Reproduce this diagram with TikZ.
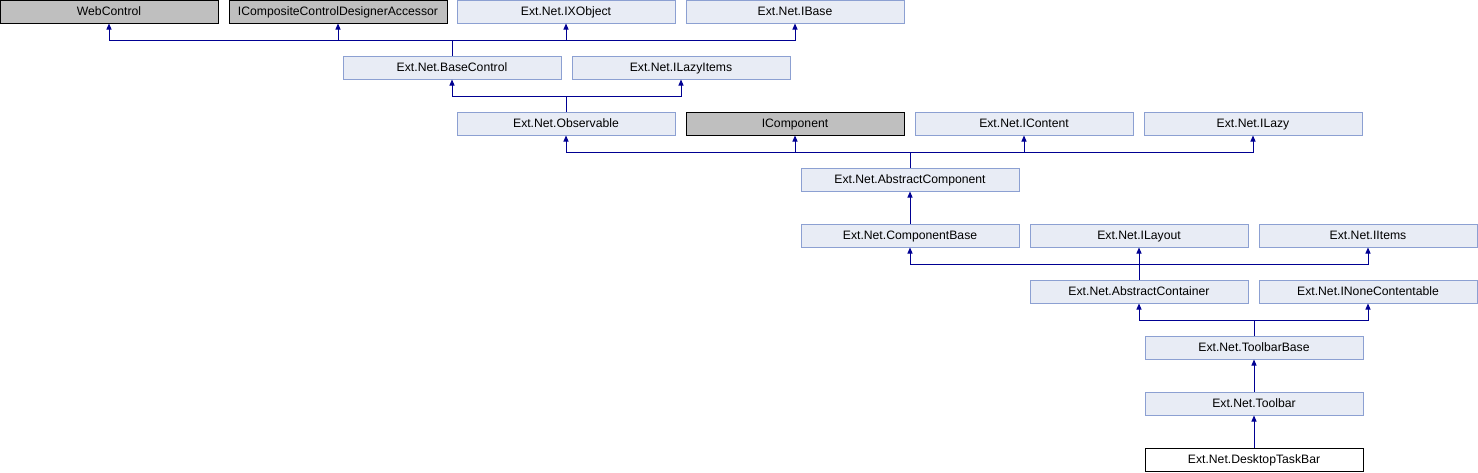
\documentclass[tikz,border=0pt]{standalone}
\usepackage{fontspec}
\setmainfont{Liberation Sans}
\usetikzlibrary{arrows.meta}
\definecolor{boxfill}{HTML}{E8ECF5}
\definecolor{boxdraw}{HTML}{8CA0D2}
\definecolor{grayfill}{HTML}{BFBFBF}
\definecolor{linkc}{HTML}{000092}
\tikzset{
  cls/.style={draw=boxdraw, fill=boxfill, line width=1pt, minimum width=218pt, minimum height=23pt, inner sep=0pt, text height=8.8pt, text depth=0pt, font=\fontsize{12.2}{14}\selectfont, text=black},
  ext/.style={cls, draw=black, fill=grayfill},
  cur/.style={cls, draw=black, fill=white},
  inh/.style={draw=linkc, line width=1pt, -{Triangle[width=5pt,length=6pt]}},
}
\begin{document}
\begin{tikzpicture}[x=1pt,y=-1pt]
\useasboundingbox (0,0) rectangle (1478,472);
% row 1
\node[ext] (web) at (109,11.5) {WebControl};
\node[ext] (icc) at (338,11.5) {ICompositeControlDesignerAccessor};
\node[cls] (ixo) at (566,11.5) {Ext.Net.IXObject};
\node[cls] (ibase) at (795,11.5) {Ext.Net.IBase};
% row 2
\node[cls] (bc) at (452,67.5) {Ext.Net.BaseControl};
\node[cls] (ili) at (681,67.5) {Ext.Net.ILazyItems};
% row 3
\node[cls] (obs) at (566,123.5) {Ext.Net.Observable};
\node[ext] (icomp) at (795,123.5) {IComponent};
\node[cls] (icont) at (1024,123.5) {Ext.Net.IContent};
\node[cls] (ilazy) at (1253,123.5) {Ext.Net.ILazy};
% row 4
\node[cls] (ac) at (910,179.5) {Ext.Net.AbstractComponent};
% row 5
\node[cls] (cb) at (910,235.5) {Ext.Net.ComponentBase};
\node[cls] (ilay) at (1139,235.5) {Ext.Net.ILayout};
\node[cls] (iit) at (1368,235.5) {Ext.Net.IItems};
% row 6
\node[cls] (acont) at (1139,291.5) {Ext.Net.AbstractContainer};
\node[cls] (inc) at (1368,291.5) {Ext.Net.INoneContentable};
% rows 7-9
\node[cls] (tbb) at (1254,347.5) {Ext.Net.ToolbarBase};
\node[cls] (tb) at (1254,403.5) {Ext.Net.Toolbar};
\node[cur] (dtb) at (1254,459.5) {Ext.Net.DesktopTaskBar};
% edges
\foreach \c/\p in {bc/web, bc/icc, bc/ixo, bc/ibase,
                   obs/bc, obs/ili,
                   ac/obs, ac/icomp, ac/icont, ac/ilazy,
                   cb/ac,
                   acont/cb, acont/ilay, acont/iit,
                   tbb/acont, tbb/inc,
                   tb/tbb, dtb/tb}
  \draw[inh] (\c.north) |- ([yshift=-17pt]\p.south) -- (\p.south);
\end{tikzpicture}
\end{document}
